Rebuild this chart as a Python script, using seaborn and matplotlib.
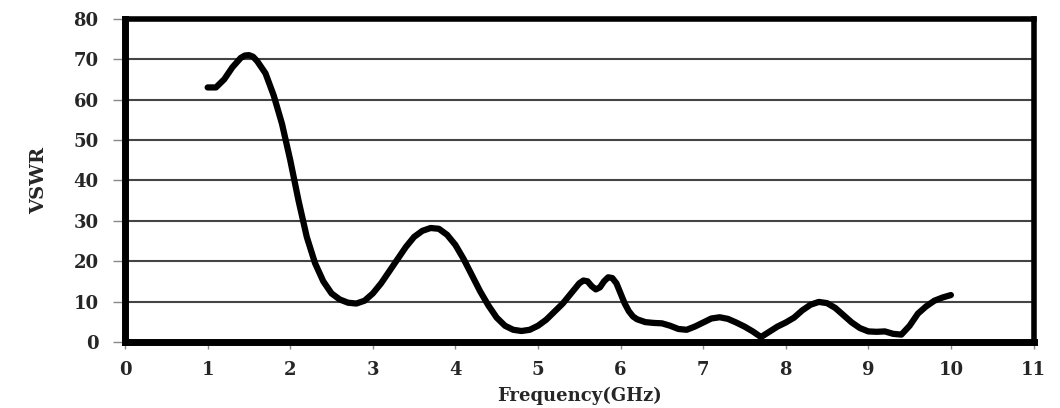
import matplotlib
matplotlib.use("Agg")
import matplotlib.pyplot as plt
import seaborn as sns
import pandas as pd

freq = [1.0, 1.1, 1.2, 1.3, 1.4, 1.45, 1.5, 1.55, 1.6, 1.7, 1.8, 1.9, 2.0, 2.1, 2.2, 2.3, 2.4, 2.5,
        2.6, 2.7, 2.8, 2.9, 3.0, 3.1, 3.2, 3.3, 3.4, 3.5, 3.6, 3.7, 3.8, 3.9, 4.0, 4.1,
        4.2, 4.3, 4.4, 4.5, 4.6, 4.7, 4.8, 4.9, 5.0, 5.1, 5.2, 5.3, 5.4, 5.5, 5.55, 5.6,
        5.65, 5.7, 5.75, 5.8, 5.85, 5.9, 5.95, 6.0, 6.05, 6.1, 6.15, 6.2, 6.3, 6.4, 6.5, 6.6,
        6.7, 6.8, 6.9, 7.0, 7.1, 7.2, 7.3, 7.4, 7.5, 7.6, 7.7, 7.8, 7.9, 8.0, 8.1, 8.2,
        8.3, 8.4, 8.5, 8.6, 8.7, 8.8, 8.9, 9.0, 9.1, 9.2, 9.3, 9.4, 9.5, 9.6, 9.7, 9.8,
        9.9, 10.0]
vswr = [63, 63, 65, 68, 70.3, 70.9, 71, 70.6, 69.5, 66.5, 61, 54, 45, 35, 26, 19.5, 15, 12,
        10.5, 9.7, 9.5, 10.2, 12, 14.5, 17.5, 20.5, 23.5, 26, 27.5, 28.2, 28, 26.5, 24, 20.5,
        16.5, 12.5, 9, 6, 4, 3, 2.7, 3, 4, 5.5, 7.5, 9.5, 12, 14.5, 15.2, 15,
        13.8, 13, 13.5, 15, 16, 15.8, 14.5, 12, 9.5, 7.6, 6.3, 5.6, 4.9, 4.7, 4.6, 4,
        3.2, 3, 3.8, 4.8, 5.8, 6.1, 5.7, 4.8, 3.8, 2.6, 1.2, 2.5, 3.8, 4.8, 6, 7.8,
        9.2, 9.9, 9.6, 8.4, 6.6, 4.8, 3.4, 2.6, 2.5, 2.6, 2.0, 1.8, 4, 7, 8.8, 10.2,
        11, 11.6]
x_ticks = list(range(0, 12))
y_ticks = list(range(0, 90, 10))

sns.set_theme(style="white")
plt.rcParams['font.family'] = ['DejaVu Serif']

df = pd.DataFrame({"Frequency(GHz)": freq, "VSWR": vswr})

fig = plt.figure(figsize=(10.6, 4.08), dpi=100)
ax = fig.add_axes([0.118, 0.162, 0.857, 0.792])

for yv in y_ticks[1:-1]:
    ax.axhline(yv, color="#444444", lw=1.5, zorder=1)

sns.lineplot(data=df, x="Frequency(GHz)", y="VSWR", ax=ax, color="black",
             lw=4.5, sort=False, zorder=3)
ax.lines[-1].set_solid_capstyle("round")
ax.lines[-1].set_solid_joinstyle("round")

ax.set_xlim(0, 11)
ax.set_ylim(0, 80)
ax.set_xticks(x_ticks)
ax.set_yticks(y_ticks)
ax.set_xticklabels([str(v) for v in x_ticks], fontweight="bold", fontsize=13)
ax.set_yticklabels([str(v) for v in y_ticks], fontweight="bold", fontsize=13)
ax.tick_params(axis="y", direction="out", length=9, width=1,
               color="#888888", left=True, pad=10)
ax.tick_params(axis="x", direction="out", length=5, width=1,
               color="#888888", bottom=True, pad=9)

for side, w in [("left", 5), ("bottom", 5), ("top", 4), ("right", 4)]:
    ax.spines[side].set_visible(True)
    ax.spines[side].set_color("black")
    ax.spines[side].set_linewidth(w)

ax.set_xlabel("Frequency(GHz)", fontweight="bold", fontsize=13, labelpad=5)
ax.set_ylabel("VSWR", fontweight="bold", fontsize=14, labelpad=18)

fig.savefig("out.png", dpi=100)
